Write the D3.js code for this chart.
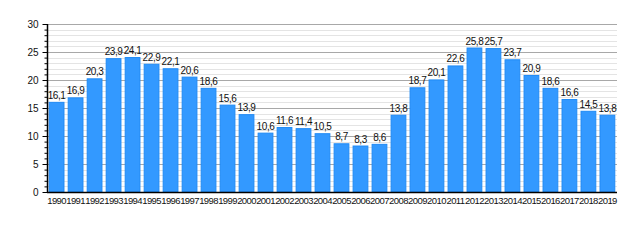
<!DOCTYPE html>
<html><head><meta charset="utf-8">
<script src="https://cdn.jsdelivr.net/npm/d3@7"></script>
<style>body{margin:0;background:#fff}svg{display:block}</style>
</head><body><svg id="c" width="640" height="240"></svg>
<script>
const years = ["1990","1991","1992","1993","1994","1995","1996","1997","1998","1999","2000","2001","2002","2003","2004","2005","2006","2007","2008","2009","2010","2011","2012","2013","2014","2015","2016","2017","2018","2019"];
const values = [16.1,16.9,20.3,23.9,24.1,22.9,22.1,20.6,18.6,15.6,13.9,10.6,11.6,11.4,10.5,8.7,8.3,8.6,13.8,18.7,20.1,22.6,25.8,25.7,23.7,20.9,18.6,16.6,14.5,13.8];
const yTicks = [0,5,10,15,20,25,30];

const svg = d3.select("#c");
const m = {l:47, r:617, t:24, b:192};
const x = d3.scaleBand().domain(years).range([m.l, m.r]).paddingInner(0.17).paddingOuter(0.09);
const y = d3.scaleLinear().domain([0,30]).range([m.b, m.t]);
const font = "'Liberation Sans', Arial, sans-serif";

// minor gridlines
svg.append("g").selectAll("line").data(d3.range(1,30).filter(v=>v%5)).join("line")
  .attr("x1",m.l).attr("x2",m.r).attr("y1",d=>Math.round(y(d))+0.5).attr("y2",d=>Math.round(y(d))+0.5)
  .attr("stroke","#e4e4e4");
// major gridlines
svg.append("g").selectAll("line").data(yTicks.filter(v=>v>0)).join("line")
  .attr("x1",m.l).attr("x2",m.r).attr("y1",d=>Math.round(y(d))+0.5).attr("y2",d=>Math.round(y(d))+0.5)
  .attr("stroke","#a8a8a8");

// bars
svg.append("g").selectAll("rect").data(values).join("rect")
  .attr("x",(d,i)=>x(years[i])+0.5).attr("width",x.bandwidth()-1)
  .attr("y",d=>y(d)+0.5).attr("height",d=>m.b-y(d)-0.5)
  .attr("fill","#3399ff").attr("stroke","#1f8af5").attr("stroke-width",1);

// value labels
svg.append("g").selectAll("text").data(values).join("text")
  .attr("x",(d,i)=>x(years[i])+x.bandwidth()/2).attr("y",d=>y(d)-3)
  .attr("text-anchor","middle").attr("font-family",font).attr("font-size",10).attr("letter-spacing",-0.4)
  .attr("fill","#111").text(d=>d.toFixed(1).replace(".",","));

// y axis
const ya = d3.axisLeft(y).tickValues(yTicks).tickSize(5).tickPadding(4).tickFormat(d3.format("d"));
const gy = svg.append("g").attr("transform",`translate(${m.l+0.5},0)`).call(ya);
gy.select(".domain").remove();
gy.selectAll("text").attr("font-family",font).attr("font-size",10).attr("fill","#111");
gy.selectAll(".tick line").attr("stroke","#000");
const yam = d3.axisLeft(y).tickValues(d3.range(0,31).filter(v=>v%5)).tickSize(3).tickFormat("");
const gym = svg.append("g").attr("transform",`translate(${m.l+0.5},0)`).call(yam);
gym.select(".domain").remove();
gym.selectAll(".tick line").attr("stroke","#000");
svg.append("line").attr("x1",m.l+0.5).attr("x2",m.l+0.5).attr("y1",m.t).attr("y2",m.b+1).attr("stroke","#000").attr("stroke-width",1.5);

// x axis
const xa = d3.axisBottom(x).tickSize(0).tickPadding(5);
const gx = svg.append("g").attr("transform",`translate(0,${m.b})`).call(xa);
gx.select(".domain").remove();
gx.selectAll("text").attr("font-family",font).attr("font-size",9.5).attr("letter-spacing",-0.6).attr("fill","#111");
svg.append("line").attr("x1",m.l).attr("x2",m.r).attr("y1",m.b+0.5).attr("y2",m.b+0.5).attr("stroke","#000").attr("stroke-width",1.5);
</script></body></html>
